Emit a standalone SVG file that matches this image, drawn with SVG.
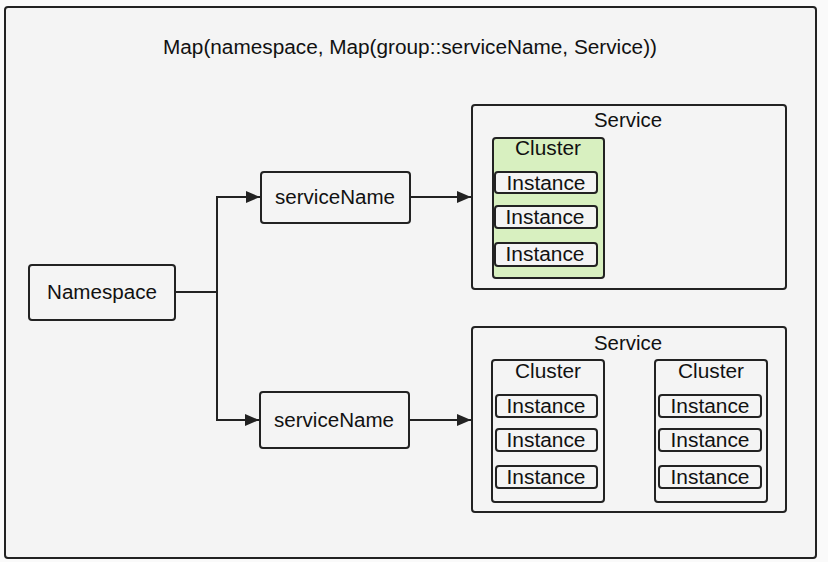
<svg xmlns="http://www.w3.org/2000/svg" width="828" height="562" viewBox="0 0 828 562">
<defs>
<style>
.box{fill:#f4f4f4;stroke:#222;stroke-width:2}
.green{fill:#d8f0c0;stroke:#222;stroke-width:2}
.t{font-family:"Liberation Sans",Arial,sans-serif;fill:#111;text-anchor:middle;dominant-baseline:central}
.lbl{font-size:20px}
.conn{fill:none;stroke:#222;stroke-width:2}
</style>
<marker id="arr" viewBox="0 0 14 12" refX="14" refY="6" markerWidth="14" markerHeight="12" markerUnits="userSpaceOnUse" orient="auto">
<path d="M0,0 L14,6 L0,12 Z" fill="#222"/>
</marker>
</defs>
<rect x="0" y="0" width="828" height="562" fill="#fafafa"/>
<g id="frame">
<rect class="box" x="5" y="7" width="811" height="551" rx="3"/>
<text class="t" x="410" y="47" font-size="19.5" textLength="494" lengthAdjust="spacingAndGlyphs">Map(namespace, Map(group::serviceName, Service))</text>
</g>
<g id="connectors">
<polyline class="conn" points="175,292 217,292 217,197 260,197" marker-end="url(#arr)"/>
<polyline class="conn" points="217,292 217,420 259,420" marker-end="url(#arr)"/>
<line class="conn" x1="410" y1="197" x2="471" y2="197" marker-end="url(#arr)"/>
<line class="conn" x1="409" y1="420" x2="471" y2="420" marker-end="url(#arr)"/>
</g>
<g id="namespace">
<rect class="box" x="29" y="265" width="146" height="55" rx="3"/>
<text class="t lbl" x="102" y="292" textLength="110" lengthAdjust="spacingAndGlyphs">Namespace</text>
</g>
<g id="serviceName1">
<rect class="box" x="261" y="172" width="149" height="51" rx="3"/>
<text class="t lbl" x="335" y="197" textLength="120" lengthAdjust="spacingAndGlyphs">serviceName</text>
</g>
<g id="serviceName2">
<rect class="box" x="260" y="392" width="149" height="56" rx="3"/>
<text class="t lbl" x="334" y="420" textLength="120" lengthAdjust="spacingAndGlyphs">serviceName</text>
</g>
<g id="service1">
<rect class="box" x="472" y="105" width="314" height="184" rx="3"/>
<text class="t lbl" x="628" y="120" textLength="68" lengthAdjust="spacingAndGlyphs">Service</text>
<rect class="green" x="493" y="138" width="111" height="140" rx="3"/>
<text class="t lbl" x="548" y="148" textLength="66" lengthAdjust="spacingAndGlyphs">Cluster</text>
<rect class="box" x="495" y="172" width="102" height="21" rx="3"/>
<text class="t lbl" x="546" y="183" textLength="79" lengthAdjust="spacingAndGlyphs">Instance</text>
<rect class="box" x="495" y="206" width="102" height="22" rx="3"/>
<text class="t lbl" x="545" y="217" textLength="79" lengthAdjust="spacingAndGlyphs">Instance</text>
<rect class="box" x="495" y="243" width="102" height="23" rx="3"/>
<text class="t lbl" x="545" y="254" textLength="79" lengthAdjust="spacingAndGlyphs">Instance</text>
</g>
<g id="service2">
<rect class="box" x="472" y="327" width="314" height="185" rx="3"/>
<text class="t lbl" x="628" y="343" textLength="68" lengthAdjust="spacingAndGlyphs">Service</text>
<rect class="box" x="492" y="360" width="112" height="142" rx="3"/>
<text class="t lbl" x="548" y="371" textLength="66" lengthAdjust="spacingAndGlyphs">Cluster</text>
<rect class="box" x="496" y="395" width="101" height="22" rx="3"/>
<text class="t lbl" x="546" y="406" textLength="79" lengthAdjust="spacingAndGlyphs">Instance</text>
<rect class="box" x="496" y="429" width="101" height="22" rx="3"/>
<text class="t lbl" x="546" y="440" textLength="79" lengthAdjust="spacingAndGlyphs">Instance</text>
<rect class="box" x="496" y="466" width="101" height="22" rx="3"/>
<text class="t lbl" x="546" y="477" textLength="79" lengthAdjust="spacingAndGlyphs">Instance</text>
<rect class="box" x="655" y="360" width="112" height="142" rx="3"/>
<text class="t lbl" x="711" y="371" textLength="66" lengthAdjust="spacingAndGlyphs">Cluster</text>
<rect class="box" x="659" y="395" width="102" height="22" rx="3"/>
<text class="t lbl" x="710" y="406" textLength="79" lengthAdjust="spacingAndGlyphs">Instance</text>
<rect class="box" x="659" y="429" width="102" height="22" rx="3"/>
<text class="t lbl" x="710" y="440" textLength="79" lengthAdjust="spacingAndGlyphs">Instance</text>
<rect class="box" x="659" y="466" width="102" height="22" rx="3"/>
<text class="t lbl" x="710" y="477" textLength="79" lengthAdjust="spacingAndGlyphs">Instance</text>
</g>
</svg>
